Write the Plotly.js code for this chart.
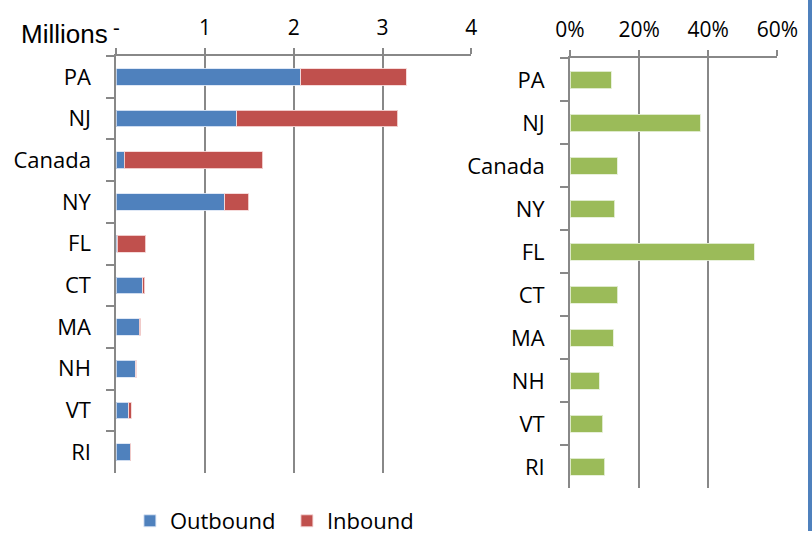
<!DOCTYPE html>
<html>
<head>
<meta charset="utf-8">
<script src="https://cdn.plot.ly/plotly-3.0.1.min.js"></script>
<style>html,body{margin:0;padding:0;background:#fff;}#chart{width:812px;height:536px;}</style>
</head>
<body>
<div id="chart"></div>
<script>
const categories = ["PA", "NJ", "Canada", "NY", "FL", "CT", "MA", "NH", "VT", "RI"];
const outbound = [2.08, 1.36, 0.09, 1.22, 0.01, 0.30, 0.26, 0.22, 0.14, 0.16];
const inbound = [1.19, 1.81, 1.56, 0.27, 0.32, 0.02, 0.015, 0.005, 0.03, 0.005];
const share = [0.119, 0.377, 0.136, 0.130, 0.533, 0.138, 0.125, 0.085, 0.095, 0.100];
const leftTickVals = [0, 1, 2, 3, 4];
const leftTickText = ["-", "1", "2", "3", "4"];
const rightTickVals = [0, 0.2, 0.4, 0.6];
const rightTickText = ["0%", "20%", "40%", "60%"];

const FONT = "Open Sans, sans-serif";
const AX = "#888888";

const traces = [
  {type: "bar", orientation: "h", name: "Outbound", y: categories, x: outbound,
   xaxis: "x", yaxis: "y", marker: {color: "#4F81BD", line: {color: "rgba(220,230,245,0.9)", width: 1}},
   hoverinfo: "x+y"},
  {type: "bar", orientation: "h", name: "Inbound", y: categories, x: inbound,
   xaxis: "x", yaxis: "y", marker: {color: "#C0504D", line: {color: "rgba(245,215,215,0.9)", width: 1}},
   hoverinfo: "x+y"},
  {type: "bar", orientation: "h", name: "Share", y: categories, x: share, showlegend: false,
   xaxis: "x2", yaxis: "y2", marker: {color: "#9BBB59", line: {color: "rgba(230,240,215,0.9)", width: 1}},
   hoverinfo: "x+y"}
];

const xCommon = {
  side: "top", showline: true, linecolor: AX, linewidth: 2,
  showgrid: true, gridcolor: AX, gridwidth: 2, zeroline: false,
  ticks: "outside", ticklen: 6, tickcolor: AX, tickwidth: 2,
  tickfont: {family: FONT, size: 21, color: "#000"}, tickmode: "array", fixedrange: true
};
const yCommon = {
  type: "category", autorange: "reversed", showline: true, linecolor: AX, linewidth: 2,
  showgrid: false, zeroline: false, tickson: "boundaries",
  ticks: "outside", ticklen: 8, tickcolor: AX, tickwidth: 2,
  tickfont: {family: FONT, size: 22, color: "#000"}, ticklabelstandoff: 19, fixedrange: true
};

const layout = {
  width: 812, height: 536,
  margin: {l: 0, r: 0, t: 0, b: 0, autoexpand: false},
  paper_bgcolor: "#fff", plot_bgcolor: "#fff",
  barmode: "stack", bargap: 0.6,
  font: {family: FONT, color: "#000"},
  xaxis: Object.assign({}, xCommon, {domain: [0.1432, 0.5804], range: [0, 4],
    tickvals: leftTickVals, ticktext: leftTickText, anchor: "y", ticklabelstandoff: 5}),
  yaxis: Object.assign({}, yCommon, {domain: [0.1175, 0.8955], anchor: "x"}),
  xaxis2: Object.assign({}, xCommon, {domain: [0.702, 0.9573], range: [0, 0.6],
    tickvals: rightTickVals, ticktext: rightTickText, anchor: "y2", ticklabelstandoff: 5}),
  yaxis2: Object.assign({}, yCommon, {domain: [0.089, 0.891], anchor: "x2"}),
  showlegend: true,
  legend: {orientation: "h", x: 0.160, xanchor: "left", y: 0.028, yanchor: "middle",
    entrywidth: 112, entrywidthmode: "pixels",
    font: {family: FONT, size: 22, color: "#000"}, bgcolor: "rgba(0,0,0,0)", traceorder: "normal"},
  annotations: [
    {text: "Millions", xref: "paper", yref: "paper", x: 110 / 812, y: 1 - 34 / 536,
     xanchor: "right", yanchor: "middle", showarrow: false,
     font: {family: "Liberation Sans, Arial, sans-serif", size: 26, color: "#000"}}
  ],
  shapes: [
    {type: "rect", xref: "paper", yref: "paper", x0: 808 / 812, x1: 1, y0: 5 / 536, y1: 1,
     fillcolor: "#4F81BD", line: {width: 0}}
  ]
};

Plotly.newPlot("chart", traces, layout, {displayModeBar: false, staticPlot: true});
</script>
</body>
</html>
